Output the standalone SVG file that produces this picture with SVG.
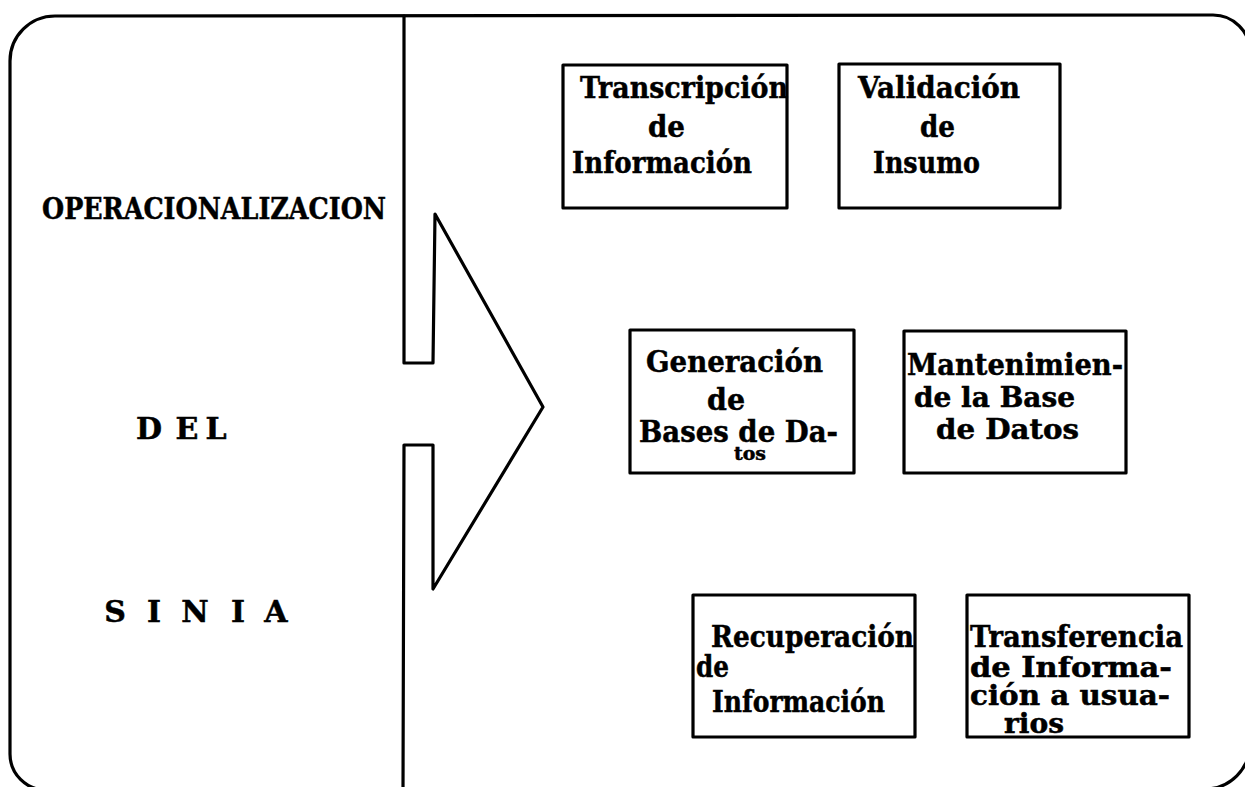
<svg xmlns="http://www.w3.org/2000/svg" width="1245" height="787" viewBox="0 0 1245 787">
<style>
.ln{fill:none;stroke:#000;stroke-width:3.2;stroke-linejoin:round;stroke-linecap:round}
.bx{fill:#fff;stroke:#000;stroke-width:3.2;stroke-linejoin:round}
.t{font-family:"DejaVu Serif","Liberation Serif",serif;font-weight:bold;font-size:30px;fill:#000;stroke:#000;stroke-width:0.5}
.s{font-family:"DejaVu Serif","Liberation Serif",serif;font-weight:bold;font-size:30px;fill:#000;stroke:#000;stroke-width:0.5;text-anchor:middle}
.tight{font-size:27px}
</style>
<rect width="1245" height="787" fill="#fff"/>
<g id="frame">
<path class="ln" d="M10,61 A45 45 0 0 1 55,16 L1213,15 A37 37 0 0 1 1250,52 L1250,744 A45 45 0 0 1 1205,789 L46,790 A36 36 0 0 1 10,754 Z"/>
</g>
<g id="connectors">
<path class="ln" d="M404,16 L404,363 L433,363 L435,214 L543,407 L433,589 L433,445 L404,445 L403,790"/>
</g>
<g id="title">
<text class="t" x="42" y="219" textLength="344" lengthAdjust="spacingAndGlyphs">OPERACIONALIZACION</text>
<text class="s" x="149 187 216" y="439">DEL</text>
<text class="s" x="115 154 195 238 276" y="622">SINIA</text>
</g>
<g id="n1">
<rect class="bx" x="563" y="65" width="224" height="143"/>
<text class="t" x="580" y="98" textLength="208" lengthAdjust="spacingAndGlyphs">Transcripción</text>
<text class="t" x="648" y="137" textLength="37" lengthAdjust="spacingAndGlyphs">de</text>
<text class="t" x="572" y="173" textLength="180" lengthAdjust="spacingAndGlyphs">Información</text>
</g>
<g id="n2">
<rect class="bx" x="839" y="64" width="221" height="144"/>
<text class="t" x="858" y="98" textLength="162" lengthAdjust="spacingAndGlyphs">Validación</text>
<text class="t" x="920" y="137" textLength="35" lengthAdjust="spacingAndGlyphs">de</text>
<text class="t" x="873" y="173" textLength="107" lengthAdjust="spacingAndGlyphs">Insumo</text>
</g>
<g id="n3">
<rect class="bx" x="630" y="330" width="224" height="143"/>
<text class="t" x="646" y="372" textLength="177" lengthAdjust="spacingAndGlyphs">Generación</text>
<text class="t" x="707" y="410" textLength="38" lengthAdjust="spacingAndGlyphs">de</text>
<text class="t" x="639" y="442" textLength="199" lengthAdjust="spacingAndGlyphs">Bases de Da-</text>
<text class="t" x="734" y="460" style="font-size:18px" textLength="32" lengthAdjust="spacingAndGlyphs">tos</text>
</g>
<g id="n4">
<rect class="bx" x="904" y="331" width="222" height="142"/>
<text class="t" x="907" y="375" textLength="216" lengthAdjust="spacingAndGlyphs">Mantenimien-</text>
<text class="t tight" x="914" y="407" textLength="161" lengthAdjust="spacingAndGlyphs">de la Base</text>
<text class="t tight" x="936" y="439" textLength="143" lengthAdjust="spacingAndGlyphs">de Datos</text>
</g>
<g id="n5">
<rect class="bx" x="693" y="595" width="222" height="142"/>
<text class="t" x="711" y="647" textLength="203" lengthAdjust="spacingAndGlyphs">Recuperación</text>
<text class="t" x="696" y="677" textLength="33" lengthAdjust="spacingAndGlyphs">de</text>
<text class="t" x="712" y="712" textLength="173" lengthAdjust="spacingAndGlyphs">Información</text>
</g>
<g id="n6">
<rect class="bx" x="967" y="595" width="222" height="142"/>
<text class="t" x="970" y="647" textLength="213" lengthAdjust="spacingAndGlyphs">Transferencia</text>
<text class="t tight" x="970" y="677" textLength="202" lengthAdjust="spacingAndGlyphs">de Informa-</text>
<text class="t tight" x="970" y="705" textLength="200" lengthAdjust="spacingAndGlyphs">ción a usua-</text>
<text class="t tight" x="1004" y="733" textLength="60" lengthAdjust="spacingAndGlyphs">rios</text>
</g>
</svg>
